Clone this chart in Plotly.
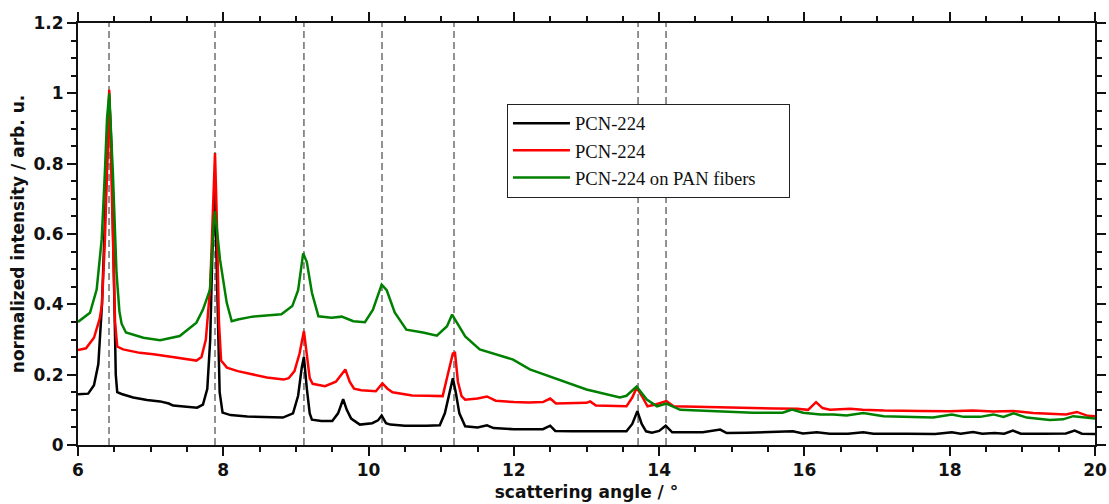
import plotly.graph_objects as go

# ---------------- data ----------------
black_x = [6.00, 6.14, 6.22, 6.28, 6.33, 6.37, 6.41, 6.43, 6.46, 6.49, 6.52, 6.54, 6.60, 6.76, 6.95,
           7.13, 7.25, 7.31, 7.50, 7.64, 7.72, 7.78, 7.82, 7.85, 7.886, 7.92, 7.95, 7.99, 8.10, 8.33,
           8.60, 8.82, 8.96, 9.03, 9.08, 9.11, 9.15, 9.19, 9.22, 9.35, 9.50, 9.58, 9.65, 9.70, 9.76,
           9.88, 10.05, 10.13, 10.18, 10.24, 10.30, 10.50, 10.80, 10.98, 11.05, 11.12, 11.16, 11.20,
           11.25, 11.33, 11.50, 11.63, 11.72, 12.00, 12.22, 12.40, 12.50, 12.57, 12.80, 13.20, 13.55,
           13.63, 13.70, 13.76, 13.82, 13.90, 14.00, 14.09, 14.18, 14.40, 14.60, 14.84, 14.93, 15.20,
           15.50, 15.84, 15.98, 16.17, 16.35, 16.60, 16.81, 16.95, 17.40, 17.80, 18.03, 18.15, 18.32,
           18.45, 18.62, 18.75, 18.87, 18.98, 19.30, 19.60, 19.72, 19.82, 20.00]
black_y = [0.144, 0.146, 0.17, 0.23, 0.40, 0.65, 0.92, 0.99, 0.85, 0.50, 0.20, 0.15, 0.145, 0.135, 0.128,
           0.124, 0.118, 0.112, 0.108, 0.106, 0.115, 0.16, 0.30, 0.55, 0.72, 0.45, 0.15, 0.092, 0.085, 0.081,
           0.079, 0.078, 0.09, 0.14, 0.22, 0.25, 0.16, 0.09, 0.072, 0.068, 0.068, 0.09, 0.13, 0.10, 0.075,
           0.058, 0.062, 0.07, 0.084, 0.062, 0.058, 0.055, 0.055, 0.056, 0.09, 0.16, 0.19, 0.15,
           0.09, 0.053, 0.05, 0.056, 0.048, 0.045, 0.044, 0.045, 0.055, 0.04, 0.039, 0.038, 0.039,
           0.06, 0.096, 0.06, 0.039, 0.035, 0.04, 0.055, 0.036, 0.036, 0.036, 0.044, 0.034, 0.035,
           0.036, 0.039, 0.033, 0.036, 0.032, 0.032, 0.036, 0.032, 0.032, 0.031, 0.036, 0.032, 0.037,
           0.032, 0.034, 0.032, 0.041, 0.032, 0.032, 0.033, 0.041, 0.032, 0.031]

red_x = [6.00, 6.11, 6.22, 6.30, 6.33, 6.37, 6.41, 6.43, 6.45, 6.48, 6.51, 6.54, 6.62, 6.85, 7.04,
         7.30, 7.50, 7.63, 7.70, 7.76, 7.82, 7.86, 7.886, 7.91, 7.94, 7.97, 8.05, 8.20, 8.40, 8.60,
         8.83, 8.90, 8.98, 9.05, 9.11, 9.15, 9.19, 9.23, 9.40, 9.55, 9.68, 9.74, 9.80, 9.90, 10.10,
         10.19, 10.26, 10.33, 10.60, 10.80, 11.02, 11.09, 11.16, 11.19, 11.23, 11.28, 11.33, 11.50,
         11.63, 11.75, 12.00, 12.20, 12.40, 12.50, 12.58, 13.00, 13.05, 13.13, 13.40, 13.55, 13.63,
         13.69, 13.76, 13.84, 13.95, 14.10, 14.20, 14.60, 15.00, 15.60, 15.90, 16.05, 16.16, 16.25,
         16.35, 16.63, 16.80, 17.10, 17.60, 18.00, 18.32, 18.60, 18.87, 19.15, 19.60, 19.75, 19.90, 20.00]
red_y = [0.27, 0.275, 0.305, 0.36, 0.40, 0.58, 0.85, 1.01, 0.85, 0.58, 0.35, 0.28, 0.272, 0.262, 0.258,
         0.25, 0.243, 0.240, 0.25, 0.30, 0.45, 0.70, 0.83, 0.65, 0.35, 0.24, 0.22, 0.21, 0.20, 0.192,
         0.186, 0.19, 0.21, 0.26, 0.324, 0.26, 0.19, 0.174, 0.167, 0.18, 0.215, 0.18, 0.16, 0.156, 0.153,
         0.175, 0.16, 0.15, 0.141, 0.14, 0.139, 0.20, 0.26, 0.262, 0.18, 0.139, 0.129, 0.132,
         0.138, 0.126, 0.122, 0.121, 0.122, 0.132, 0.118, 0.12, 0.124, 0.112, 0.11, 0.11, 0.135,
         0.163, 0.14, 0.11, 0.115, 0.125, 0.11, 0.108, 0.105, 0.104, 0.103, 0.10, 0.122, 0.105,
         0.10, 0.103, 0.10, 0.098, 0.097, 0.096, 0.098, 0.095, 0.097, 0.091, 0.087, 0.094, 0.083, 0.082]

green_x = [6.00, 6.165, 6.257, 6.326, 6.37, 6.40, 6.43, 6.46, 6.48, 6.53, 6.57, 6.60, 6.66, 6.90, 7.13,
           7.40, 7.63, 7.72, 7.817, 7.87, 7.886, 7.955, 8.00, 8.047, 8.116, 8.20, 8.40, 8.60, 8.80, 8.95, 9.03,
           9.10, 9.15, 9.22, 9.31, 9.49, 9.63, 9.79, 9.95, 10.06, 10.18, 10.25, 10.36, 10.52, 10.75,
           10.94, 11.08, 11.15, 11.21, 11.33, 11.53, 11.99, 12.22, 12.54, 13.00, 13.46, 13.55, 13.69,
           13.83, 13.97, 14.10, 14.29, 14.60, 15.29, 15.70, 15.83, 15.98, 16.22, 16.40, 16.58, 16.81,
           17.09, 17.77, 18.03, 18.19, 18.42, 18.60, 18.74, 18.88, 19.06, 19.38, 19.56, 19.70, 19.89, 20.00]
green_y = [0.35, 0.376, 0.442, 0.584, 0.775, 0.93, 1.0, 0.88, 0.775, 0.49, 0.38, 0.345, 0.32, 0.305, 0.298,
           0.31, 0.348, 0.385, 0.442, 0.641, 0.665, 0.527, 0.46, 0.405, 0.352, 0.357, 0.365, 0.368, 0.372, 0.395, 0.44,
           0.545, 0.52, 0.433, 0.366, 0.362, 0.365, 0.352, 0.349, 0.385, 0.456, 0.44, 0.377, 0.328, 0.32,
           0.311, 0.338, 0.371, 0.35, 0.309, 0.272, 0.243, 0.215, 0.192, 0.158, 0.135, 0.14, 0.166,
           0.129, 0.11, 0.118, 0.10, 0.098, 0.092, 0.092, 0.101, 0.092, 0.087, 0.087, 0.084, 0.091,
           0.082, 0.078, 0.087, 0.080, 0.080, 0.087, 0.080, 0.090, 0.078, 0.071, 0.073, 0.082, 0.078, 0.075]

series_names = ["PCN-224", "PCN-224", "PCN-224 on PAN fibers"]
series_colors = ["#000000", "#ff0000", "#008000"]

peak_positions = [6.427, 7.886, 9.11, 10.185, 11.176, 13.71, 14.095]

x_ticks = [6, 8, 10, 12, 14, 16, 18, 20]
y_ticks = [0, 0.2, 0.4, 0.6, 0.8, 1, 1.2]

# ---------------- figure ----------------
fig = go.Figure()
for i, (xs, ys, name, col) in enumerate(zip([black_x, red_x, green_x], [black_y, red_y, green_y],
                                            series_names, series_colors)):
    label = name + ("\u00a0" * 6 if i == 2 else "")
    fig.add_trace(go.Scatter(x=xs, y=ys, mode="lines", name=label,
                             line=dict(color=col, width=2.5)))

for p in peak_positions:
    fig.add_shape(type="line", x0=p, x1=p, xref="x", y0=0, y1=1, yref="paper",
                  line=dict(color="#777777", width=1.6, dash="7px,4px"), layer="below")

axis_font = dict(family="DejaVu Sans", size=17, color="#111111", weight="bold")

fig.update_layout(
    width=1109, height=504,
    margin=dict(l=78, r=14, t=23, b=59),
    paper_bgcolor="white", plot_bgcolor="white",
    showlegend=True,
    legend=dict(x=0.4218, y=0.809, xanchor="left", yanchor="top",
                bgcolor="white", bordercolor="#222222", borderwidth=1,
                font=dict(family="Liberation Serif", size=18.6, color="#111111"),
                itemwidth=57, tracegroupgap=0),
    xaxis=dict(range=[6, 20], tickvals=x_ticks, showgrid=False, zeroline=False, automargin=False,
               showline=True, linecolor="#111111", linewidth=2, mirror="ticks",
               ticks="outside", ticklen=9, tickwidth=2, tickcolor="#111111",
               minor=dict(dtick=0.5, tick0=6, ticks="outside", ticklen=5, tickwidth=2,
                          tickcolor="#111111", showgrid=False),
               tickfont=axis_font,
               title=dict(text="scattering angle / °", font=axis_font, standoff=7)),
    yaxis=dict(range=[0, 1.2], tickvals=y_ticks, showgrid=False, zeroline=False, automargin=False,
               showline=True, linecolor="#111111", linewidth=2, mirror="ticks",
               ticks="outside", ticklen=9, tickwidth=2, tickcolor="#111111",
               minor=dict(dtick=0.05, tick0=0, ticks="outside", ticklen=5, tickwidth=2,
                          tickcolor="#111111", showgrid=False),
               tickfont=axis_font,
               title=dict(text="normalized intensity / arb. u.", font=axis_font, standoff=5)),
)

fig.write_html("out.html")
